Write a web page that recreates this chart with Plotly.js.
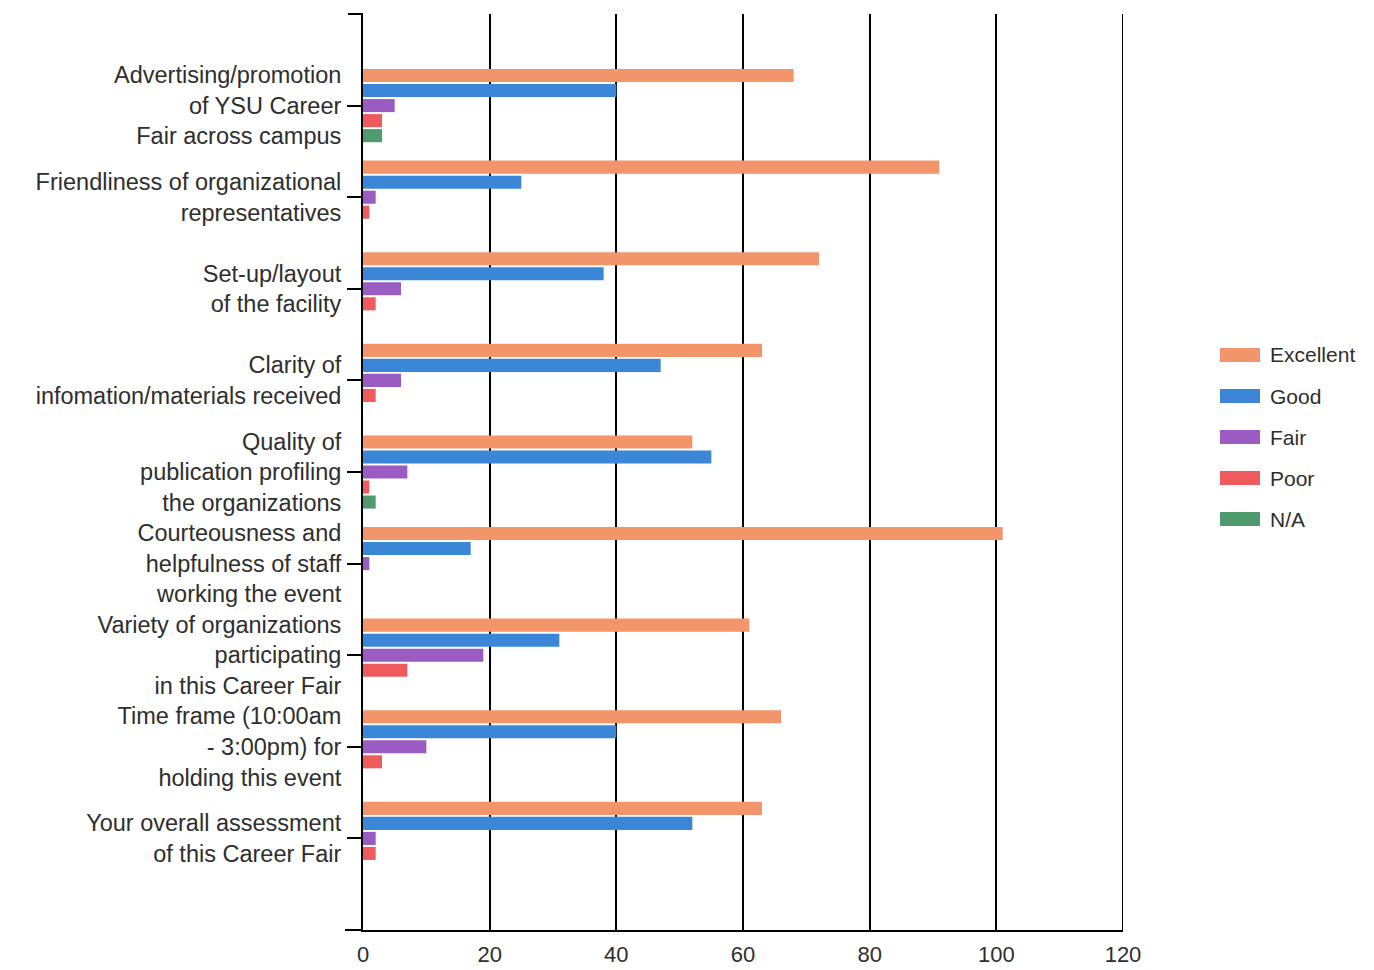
<!DOCTYPE html>
<html>
<head>
<meta charset="utf-8">
<script src="https://cdn.plot.ly/plotly-3.0.1.min.js"></script>
<style>
  html, body { margin: 0; padding: 0; background: #ffffff; }
  #chart { width: 1374px; height: 970px; }
</style>
</head>
<body>
<div id="chart"></div>
<script>
// Survey questions (top to bottom)
const categories = [
  "Advertising/promotion<br>of YSU Career<br>Fair across campus",
  "Friendliness of organizational<br>representatives",
  "Set-up/layout<br>of the facility",
  "Clarity of<br>infomation/materials received",
  "Quality of<br>publication profiling<br>the organizations",
  "Courteousness and<br>helpfulness of staff<br>working the event",
  "Variety of organizations<br>participating<br>in this Career Fair",
  "Time frame (10:00am<br>- 3:00pm) for<br>holding this event",
  "Your overall assessment<br>of this Career Fair"
];

// Rating series
const seriesNames = ["Excellent", "Good", "Fair", "Poor", "N/A"];
const excellent = [68, 91, 72, 63, 52, 101, 61, 66, 63];
const good      = [40, 25, 38, 47, 55, 17, 31, 40, 52];
const fair      = [5, 2, 6, 6, 7, 1, 19, 10, 2];
const poor      = [3, 1, 2, 2, 1, 0, 7, 3, 2];
const na        = [3, 0, 0, 0, 2, 0, 0, 0, 0];

const xTicks = [0, 20, 40, 60, 80, 100, 120];

const seriesValues = [excellent, good, fair, poor, na];
const seriesColors = ["#f3956b", "#3b86d6", "#9a5cc2", "#ef5b5d", "#4f9b6e"];

const textColor = "#2e2e2e";
const labelFont = { family: "Liberation Sans, Arial, sans-serif", size: 23.5, color: textColor };

const traces = seriesNames.map((name, i) => ({
  type: "bar",
  orientation: "h",
  name: name,
  y: categories,
  x: seriesValues[i],
  marker: { color: seriesColors[i], line: { width: 0 } },
  hoverinfo: "x+name",
  showlegend: false
}));

// Plot-area geometry in pixels, used to place the hand-drawn legend
const W = 1374, H = 970;
const plotL = 363, plotR = 1123, plotT = 14, plotB = 930;
const px2x = p => (p - plotL) / (plotR - plotL);
const px2y = p => (plotB - p) / (plotB - plotT);

const shapes = [
  // short stub at the top of the value axis
  { type: "line", xref: "paper", yref: "paper", x0: px2x(348), x1: 0, y0: 1, y1: 1,
    line: { color: "#000", width: 2 } },
  // base line extending left past the category axis
  { type: "line", xref: "paper", yref: "paper", x0: px2x(345), x1: 0, y0: 0, y1: 0,
    line: { color: "#000", width: 2 } },
  // closing grid line at the right end of the value axis
  { type: "line", xref: "x", yref: "paper", x0: xTicks[xTicks.length - 1], x1: xTicks[xTicks.length - 1],
    y0: 0, y1: 1, line: { color: "#000", width: 2 } }
];
const annotations = [];

// Legend: wide colour swatches with labels
seriesNames.forEach((name, i) => {
  const cy = 355 + i * 41;
  shapes.push({
    type: "rect", xref: "paper", yref: "paper",
    x0: px2x(1220), x1: px2x(1260), y0: px2y(cy + 7), y1: px2y(cy - 7),
    fillcolor: seriesColors[i], line: { width: 0 }
  });
  annotations.push({
    xref: "paper", yref: "paper", x: px2x(1268), y: px2y(cy),
    xanchor: "left", yanchor: "middle", showarrow: false,
    text: name,
    font: { family: "Liberation Sans, Arial, sans-serif", size: 21, color: textColor }
  });
});

const layout = {
  width: W, height: H,
  margin: { l: plotL, r: W - plotR, t: plotT, b: H - plotB, pad: 0 },
  paper_bgcolor: "#ffffff",
  plot_bgcolor: "#ffffff",
  barmode: "group",
  bargap: 0.18,
  bargroupgap: 0.13,
  xaxis: {
    range: [0, 120],
    tickvals: xTicks,
    ticktext: xTicks.map(String),
    showgrid: true, gridcolor: "#000000", gridwidth: 2,
    showline: true, linecolor: "#000000", linewidth: 2,
    zeroline: false,
    ticks: "",
    ticklabelstandoff: 4,
    tickfont: { family: "Liberation Sans, Arial, sans-serif", size: 22, color: textColor },
    fixedrange: true
  },
  yaxis: {
    type: "category",
    categoryorder: "array",
    categoryarray: categories,
    range: [9, -1],
    showgrid: false,
    showline: true, linecolor: "#000000", linewidth: 2,
    zeroline: false,
    ticks: "outside", ticklen: 14, tickwidth: 2, tickcolor: "#000000",
    ticklabelstandoff: 1,
    tickfont: labelFont,
    fixedrange: true
  },
  shapes: shapes,
  annotations: annotations,
  showlegend: false
};

Plotly.newPlot("chart", traces, layout, { displayModeBar: false, staticPlot: true });
</script>
</body>
</html>
